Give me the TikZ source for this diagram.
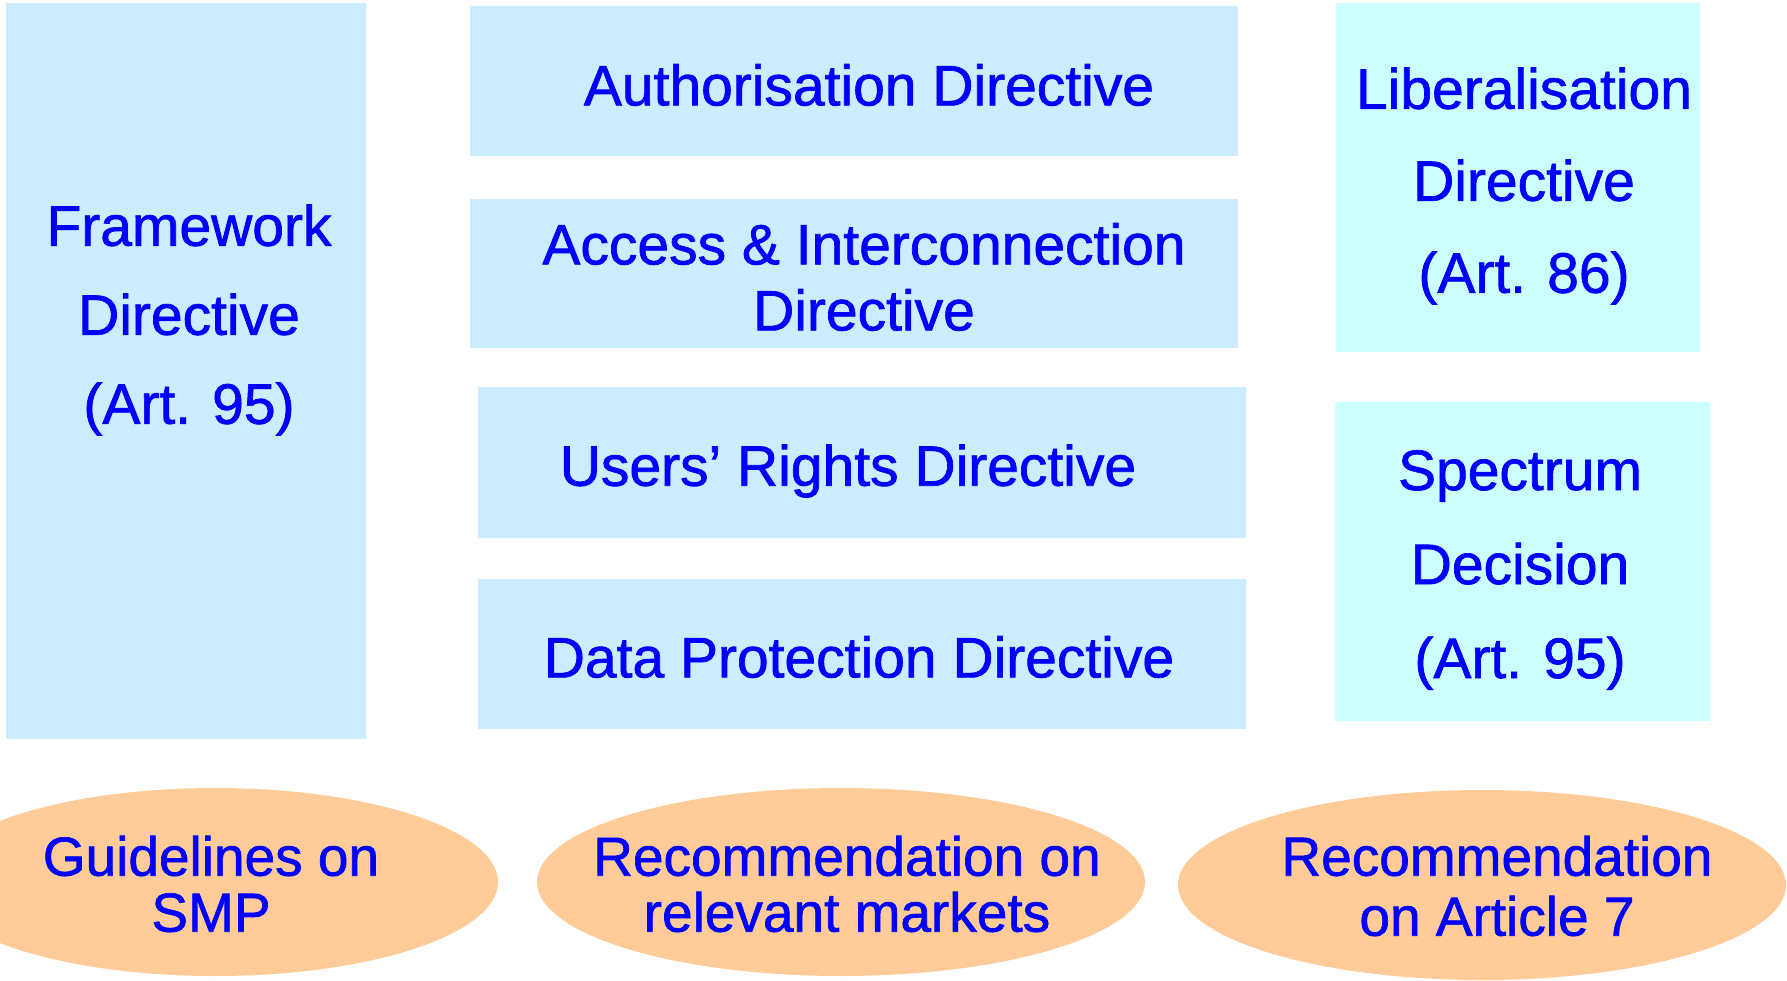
\documentclass[tikz,border=0pt]{standalone}
\usepackage{fontspec}
\setmainfont{Liberation Sans}
\newfontfamily\slidefont{Liberation Sans}[FakeBold=1.2]
\usepackage{xcolor}
\usetikzlibrary{shapes, positioning}

\definecolor{dirblue}{HTML}{CCECFF}
\definecolor{sidecyan}{HTML}{CCFFFF}
\definecolor{recpeach}{HTML}{FFCC99}
\definecolor{txtblue}{HTML}{0000FF}

\tikzset{
	dirbox/.style = {rectangle, fill = dirblue, inner sep = 0pt},
	sidebox/.style = {rectangle, fill = sidecyan, inner sep = 0pt},
	recell/.style = {ellipse, fill = recpeach, inner sep = 0pt},
	lbl/.style = {text = txtblue, align = center, inner sep = 0pt, font = \slidefont\fontsize{28.5}{#1}\selectfont},
	reclbl/.style = {text = txtblue, align = center, inner sep = 0pt, font = \slidefont\fontsize{27.5}{#1}\selectfont}
}

\begin{document}
\begin{tikzpicture}[x = 0.5pt, y = -0.5pt]
			\useasboundingbox (0,0) rectangle (1787,980);
			% directives
			\node [dirbox, minimum width = 180pt, minimum height = 368pt] (fw) at (186,371) {};
			\node [dirbox, minimum width = 384pt, minimum height = 75pt] (auth) at (854,81) {};
			\node [dirbox, minimum width = 384pt, minimum height = 74.5pt] (acc) at (854,273.5) {};
			\node [dirbox, minimum width = 384pt, minimum height = 75.5pt] (users) at (862,462.5) {};
			\node [dirbox, minimum width = 384pt, minimum height = 75pt] (data) at (862,654) {};
			\node [sidebox, minimum width = 182pt, minimum height = 174.5pt] (lib) at (1518,177.5) {};
			\node [sidebox, minimum width = 187.5pt, minimum height = 159.5pt] (spec) at (1522.5,561.5) {};
			\node [lbl = 44.5pt] (fwtext) at (189,320) {Framework\\Directive\\(Art. 95)};
			\node [lbl = 30pt] (authtext) at (869,85) {Authorisation Directive};
			\node [lbl = 33pt] (acctext) at (864,277) {Access \& Interconnection\\Directive};
			\node [lbl = 30pt] (userstext) at (848,471) {Users’ Rights Directive};
			\node [lbl = 30pt] (datatext) at (859,657) {Data Protection Directive};
			\node [lbl = 46pt] (libtext) at (1524,186) {Liberalisation\\Directive\\(Art. 86)};
			\node [lbl = 47pt] (spectext) at (1520,570) {Spectrum\\Decision\\(Art. 95)};
			% soft law
			\node [recell, minimum width = 283pt, minimum height = 94pt] (smp) at (215,882) {};
			\node [recell, minimum width = 304pt, minimum height = 94pt] (mkt) at (841,882) {};
			\node [recell, minimum width = 304pt, minimum height = 95pt] (art7) at (1482,885) {};
			\node [reclbl = 28pt] (smptext) at (211,884) {Guidelines on\\SMP};
			\node [reclbl = 28pt] (mkttext) at (847,884) {Recommendation on\\relevant markets};
			\node [reclbl = 30pt] (art7text) at (1497,886) {Recommendation\\on Article 7};
		\end{tikzpicture}
\end{document}
